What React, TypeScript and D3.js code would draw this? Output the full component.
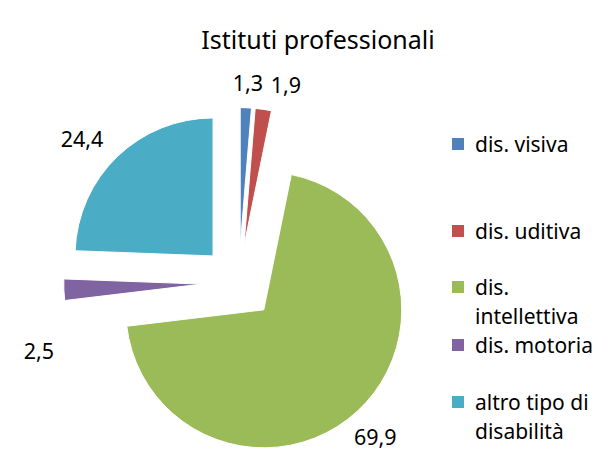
import React from "react";
import * as d3 from "d3";

const categories = ["dis. visiva", "dis. uditiva", "dis. intellettiva", "dis. motoria", "altro tipo di disabilità"];
const values = [1.3, 1.9, 69.9, 2.5, 24.4];
const valueLabels = ["1,3", "1,9", "69,9", "2,5", "24,4"];
const colors = ["#4F81BD", "#C0504D", "#9BBB59", "#8064A2", "#4BACC6"];
const legendLines = [["dis. visiva"], ["dis. uditiva"], ["dis.", "intellettiva"], ["dis. motoria"], ["altro tipo di", "disabilità"]];
const labelNudges = [[1, 0], [19, 0], [1, 7], [0, 60], [-18, 0]];
const legendY = [138, 225, 281, 339, 396];

export default function App() {
  const W = 605, H = 450;
  const cx = 238.7, cy = 282.6;
  const R = 138, explode = 37, labelR = 200;
  const pie = d3.pie<number>().sort(null).startAngle(0).endAngle(2 * Math.PI);
  const arcs = pie(values);
  const arc = d3.arc<d3.PieArcDatum<number>>().innerRadius(0).outerRadius(R);
  const font = "'Noto Sans', sans-serif";
  return (
    <svg width={W} height={H} style={{ position: "absolute", left: 0, top: 0 }}>
      <rect width={W} height={H} fill="#fff" />
      <text x={318} y={49} textAnchor="middle" fontFamily={font} fontSize={25} fill="#000">Istituti professionali</text>
      {arcs.map((a, i) => {
        const mid = (a.startAngle + a.endAngle) / 2;
        const dx = Math.sin(mid) * explode, dy = -Math.cos(mid) * explode;
        const lx = cx + Math.sin(mid) * labelR + labelNudges[i][0];
        const ly = cy - Math.cos(mid) * labelR + labelNudges[i][1];
        return (
          <g key={categories[i]}>
            <path d={arc(a) || ""} transform={`translate(${cx + dx},${cy + dy})`} fill={colors[i]} stroke="#fff" strokeWidth={1} />
            <text x={lx} y={ly} textAnchor="middle" dominantBaseline="central" fontFamily={font} fontSize={21.5} fill="#000">{valueLabels[i]}</text>
          </g>
        );
      })}
      {categories.map((c, i) => (
        <g key={"l" + c}>
          <rect x={452} y={legendY[i]} width={12} height={12} fill={colors[i]} />
          {legendLines[i].map((t, j) => (
            <text key={j} x={475} y={legendY[i] + 14 + j * 29} fontFamily={font} fontSize={21} fill="#000">{t}</text>
          ))}
        </g>
      ))}
    </svg>
  );
}
